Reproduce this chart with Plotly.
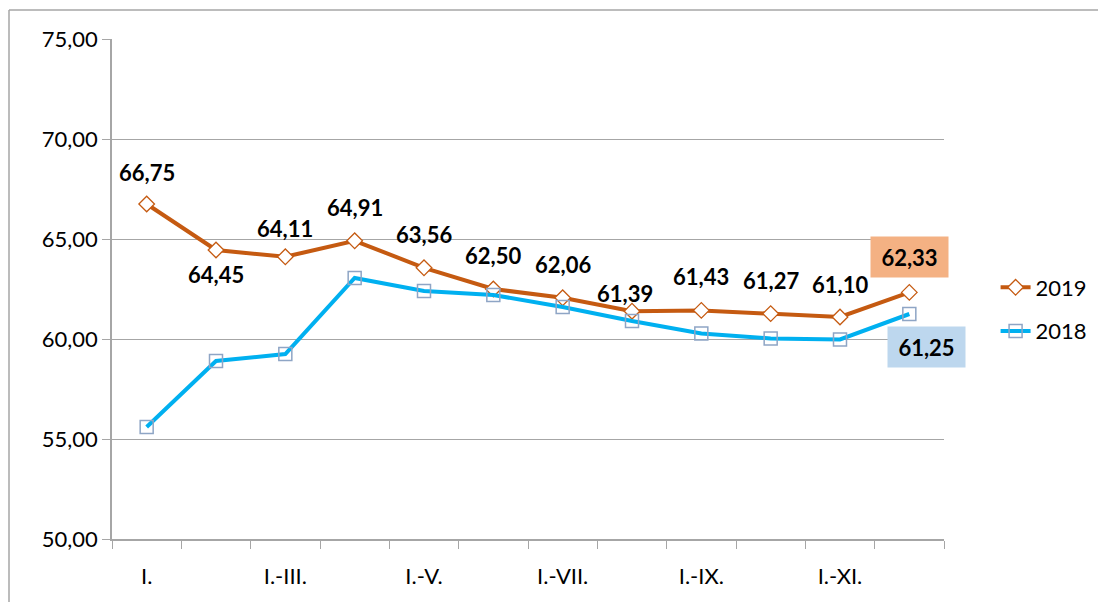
import plotly.graph_objects as go

categories = ["I.", "I.-II.", "I.-III.", "I.-IV.", "I.-V.", "I.-VI.", "I.-VII.",
              "I.-VIII.", "I.-IX.", "I.-X.", "I.-XI.", "I.-XII."]
tick_labels = ["I.", "", "I.-III.", "", "I.-V.", "", "I.-VII.", "", "I.-IX.", "", "I.-XI.", ""]
values_2019 = [66.75, 64.45, 64.11, 64.91, 63.56, 62.50, 62.06, 61.39, 61.43, 61.27, 61.10, 62.33]
values_2018 = [55.60, 58.90, 59.25, 63.05, 62.40, 62.20, 61.60, 60.90, 60.28, 60.03, 59.98, 61.25]
labels_2019 = ["66,75", "64,45", "64,11", "64,91", "63,56", "62,50", "62,06", "61,39",
               "61,43", "61,27", "61,10", "62,33"]

FONT = "Lato, 'Open Sans', sans-serif"
ORANGE = "#C55A11"
BLUE = "#00B0F0"
GRID = "#A6A6A6"

fig = go.Figure()
fig.add_trace(go.Scatter(
    x=categories, y=values_2019, name="2019", mode="lines+markers",
    line=dict(color=ORANGE, width=4),
    marker=dict(symbol="diamond", size=12, color="white", line=dict(color=ORANGE, width=1.3)),
    legendgroup="a",
))
fig.add_trace(go.Scatter(
    x=categories, y=values_2018, name="2018", mode="lines+markers",
    line=dict(color=BLUE, width=4),
    marker=dict(symbol="square-open", size=13, color="#8EA5C5", line=dict(width=1.5)),
    legendgroup="b",
))

# label offsets (pixels) for 2019 values
yshifts = [32, -24, 28, 33, 33, 34, 33, 18, 34, 33, 33, 35]
xshifts = [0, 0, 0, 0, 0, 0, 0, -7, 0, 0, 0, 0]
for i, (c, v, t) in enumerate(zip(categories, values_2019, labels_2019)):
    kw = {}
    if i == len(categories) - 1:
        kw = dict(bgcolor="#F4B183", width=77, height=40, borderpad=0)
    fig.add_annotation(x=c, y=v, text="<b>%s</b>" % t, showarrow=False,
                       yshift=yshifts[i], xshift=xshifts[i],
                       font=dict(family=FONT, size=22, color="black"), **kw)

fig.add_annotation(x=categories[-1], y=values_2018[-1], text="<b>61,25</b>", showarrow=False,
                   xshift=17, yshift=-33, bgcolor="#BDD7EE", width=77, height=40, borderpad=0,
                   font=dict(family=FONT, size=22, color="black"))

# outer chart border
fig.add_shape(type="line", xref="paper", yref="paper", x0=-0.1238, x1=1.3, y0=1.058, y1=1.058,
              line=dict(color=GRID, width=1.5))
fig.add_shape(type="line", xref="paper", yref="paper", x0=-0.1238, x1=-0.1238, y0=1.058, y1=-0.3,
              line=dict(color=GRID, width=1.5))

fig.update_layout(
    width=1098, height=594,
    margin=dict(l=104, r=162, t=31, b=63),
    paper_bgcolor="white", plot_bgcolor="white",
    separators=", ",
    font=dict(family=FONT, size=22, color="black"),
    showlegend=True,
    legend=dict(x=1.062, y=0.545, xanchor="left", yanchor="top",
                traceorder="grouped", tracegroupgap=12,
                font=dict(family=FONT, size=22, color="black"),
                bgcolor="rgba(0,0,0,0)"),
)
fig.update_xaxes(
    type="category", categoryorder="array", categoryarray=categories,
    range=[-0.5, 11.5],
    tickmode="array", tickvals=categories, ticktext=tick_labels,
    tickson="boundaries", ticks="outside", ticklen=8, tickcolor=GRID, tickwidth=1,
    ticklabelstandoff=17,
    showgrid=False, showline=True, linecolor=GRID, linewidth=1.5,
    tickfont=dict(family=FONT, size=22, color="black"),
)
fig.update_yaxes(
    range=[50, 75], dtick=5, tick0=50, tickformat=".2f",
    ticks="outside", ticklen=8, tickcolor=GRID, tickwidth=1,
    showgrid=True, gridcolor=GRID, gridwidth=1,
    showline=True, linecolor=GRID, linewidth=1.5,
    zeroline=False,
    tickfont=dict(family=FONT, size=22, color="black"),
)

fig.write_html("out.html")
